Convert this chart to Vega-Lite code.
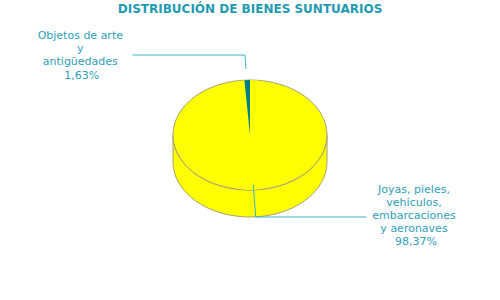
{
  "$schema": "https://vega.github.io/schema/vega-lite/v6.json",
  "width": 500,
  "height": 230,
  "autosize": {"type": "none"},
  "padding": {"top": 20, "left": 0, "right": 0, "bottom": 50},
  "background": "white",
  "title": {
    "text": "DISTRIBUCIÓN DE BIENES SUNTUARIOS",
    "font": "DejaVu Sans",
    "fontSize": 12,
    "fontWeight": "bold",
    "color": "#1f9ab3",
    "anchor": "middle",
    "frame": "group",
    "baseline": "bottom",
    "offset": -8
  },
  "config": {
    "view": {"stroke": null},
    "locale": {
      "number": {"decimal": ",", "thousands": ".", "grouping": [3], "currency": ["", " €"]}
    }
  },
  "data": {
    "values": [
      {"categoria": "Joyas, pieles, vehículos, embarcaciones y aeronaves", "etiqueta": "Joyas, pieles,\nvehículos,\nembarcaciones\ny aeronaves", "proporcion": 0.9837},
      {"categoria": "Objetos de arte y antigüedades", "etiqueta": "Objetos de arte\ny\nantigüedades", "proporcion": 0.0163}
    ]
  },
  "layer": [
    {
      "transform": [{"aggregate": [{"op": "sum", "field": "proporcion", "as": "total"}]}],
      "mark": {
        "type": "point",
        "shape": "M -1 0 L -1 0.3506 C -1 0.7451 -0.5523 1.0649 0 1.0649 C 0.5523 1.0649 1 0.7451 1 0.3506 L 1 0 C 1 0.3945 0.5523 0.7143 0 0.7143 C -0.5523 0.7143 -1 0.3945 -1 0 Z",
        "size": 23716,
        "filled": true,
        "fill": "#ffff00",
        "stroke": "#a3a374",
        "strokeWidth": 1,
        "opacity": 1
      },
      "encoding": {}
    },
    {
      "transform": [{"aggregate": [{"op": "sum", "field": "proporcion", "as": "total"}]}],
      "mark": {
        "type": "point",
        "shape": "M -1 0 C -1 -0.3945 -0.5523 -0.7143 0 -0.7143 C 0.5523 -0.7143 1 -0.3945 1 0 C 1 0.3945 0.5523 0.7143 0 0.7143 C -0.5523 0.7143 -1 0.3945 -1 0 Z",
        "size": 23716,
        "filled": true,
        "fill": "#ffff00",
        "stroke": "#a3a374",
        "strokeWidth": 1,
        "opacity": 1
      },
      "encoding": {}
    },
    {
      "mark": {"type": "arc", "outerRadius": 55, "stroke": null},
      "encoding": {
        "theta": {"field": "proporcion", "type": "quantitative", "stack": true},
        "order": {"field": "categoria", "sort": "ascending"},
        "color": {
          "field": "categoria",
          "type": "nominal",
          "scale": {
            "domain": ["Joyas, pieles, vehículos, embarcaciones y aeronaves", "Objetos de arte y antigüedades"],
            "range": ["#ffff00", "#008080"]
          },
          "legend": null
        }
      }
    },
    {
      "data": {"values": [{}]},
      "mark": {"type": "rule", "stroke": "#3ab0cc", "strokeWidth": 1},
      "encoding": {"x": {"value": 246}, "y": {"value": 49}, "x2": {"value": 245}, "y2": {"value": 35}}
    },
    {
      "data": {"values": [{}]},
      "mark": {"type": "rule", "stroke": "#3ab0cc", "strokeWidth": 1},
      "encoding": {"x": {"value": 132.5}, "y": {"value": 35}, "x2": {"value": 245}, "y2": {"value": 35}}
    },
    {
      "data": {"values": [{}]},
      "mark": {"type": "rule", "stroke": "#3ab0cc", "strokeWidth": 1},
      "encoding": {"x": {"value": 253.3}, "y": {"value": 165}, "x2": {"value": 255.7}, "y2": {"value": 197}}
    },
    {
      "data": {"values": [{}]},
      "mark": {"type": "rule", "stroke": "#3ab0cc", "strokeWidth": 1},
      "encoding": {"x": {"value": 255.7}, "y": {"value": 197}, "x2": {"value": 366.5}, "y2": {"value": 197}}
    },
    {
      "mark": {"type": "text", "radius": 80, "dx": -165.6, "dy": -19.1, "font": "DejaVu Sans", "fontSize": 11, "lineHeight": 13, "lineBreak": "\n", "align": "center", "baseline": "middle", "color": "#2ea0b8"},
      "encoding": {
        "theta": {"field": "proporcion", "type": "quantitative", "stack": true},
        "order": {"field": "categoria", "sort": "ascending"},
        "detail": {"field": "categoria", "type": "nominal"},
        "text": {"field": "etiqueta", "type": "nominal"},
        "opacity": {"condition": {"test": "datum.proporcion < 0.5", "value": 1}, "value": 0}
      }
    },
    {
      "mark": {"type": "text", "radius": 80, "dx": -164.2, "dy": 20.9, "font": "DejaVu Sans", "fontSize": 11, "align": "center", "baseline": "middle", "color": "#2ea0b8"},
      "encoding": {
        "theta": {"field": "proporcion", "type": "quantitative", "stack": true},
        "order": {"field": "categoria", "sort": "ascending"},
        "detail": {"field": "categoria", "type": "nominal"},
        "text": {"field": "proporcion", "type": "quantitative", "format": ".2%"},
        "opacity": {"condition": {"test": "datum.proporcion < 0.5", "value": 1}, "value": 0}
      }
    },
    {
      "mark": {"type": "text", "radius": 82, "dx": 159.8, "dy": -26.9, "font": "DejaVu Sans", "fontSize": 11, "lineHeight": 13, "lineBreak": "\n", "align": "center", "baseline": "middle", "color": "#2ea0b8"},
      "encoding": {
        "theta": {"field": "proporcion", "type": "quantitative", "stack": true},
        "order": {"field": "categoria", "sort": "ascending"},
        "detail": {"field": "categoria", "type": "nominal"},
        "text": {"field": "etiqueta", "type": "nominal"},
        "opacity": {"condition": {"test": "datum.proporcion >= 0.5", "value": 1}, "value": 0}
      }
    },
    {
      "mark": {"type": "text", "radius": 82, "dx": 161.8, "dy": 25.1, "font": "DejaVu Sans", "fontSize": 11, "align": "center", "baseline": "middle", "color": "#2ea0b8"},
      "encoding": {
        "theta": {"field": "proporcion", "type": "quantitative", "stack": true},
        "order": {"field": "categoria", "sort": "ascending"},
        "detail": {"field": "categoria", "type": "nominal"},
        "text": {"field": "proporcion", "type": "quantitative", "format": ".2%"},
        "opacity": {"condition": {"test": "datum.proporcion >= 0.5", "value": 1}, "value": 0}
      }
    }
  ]
}
